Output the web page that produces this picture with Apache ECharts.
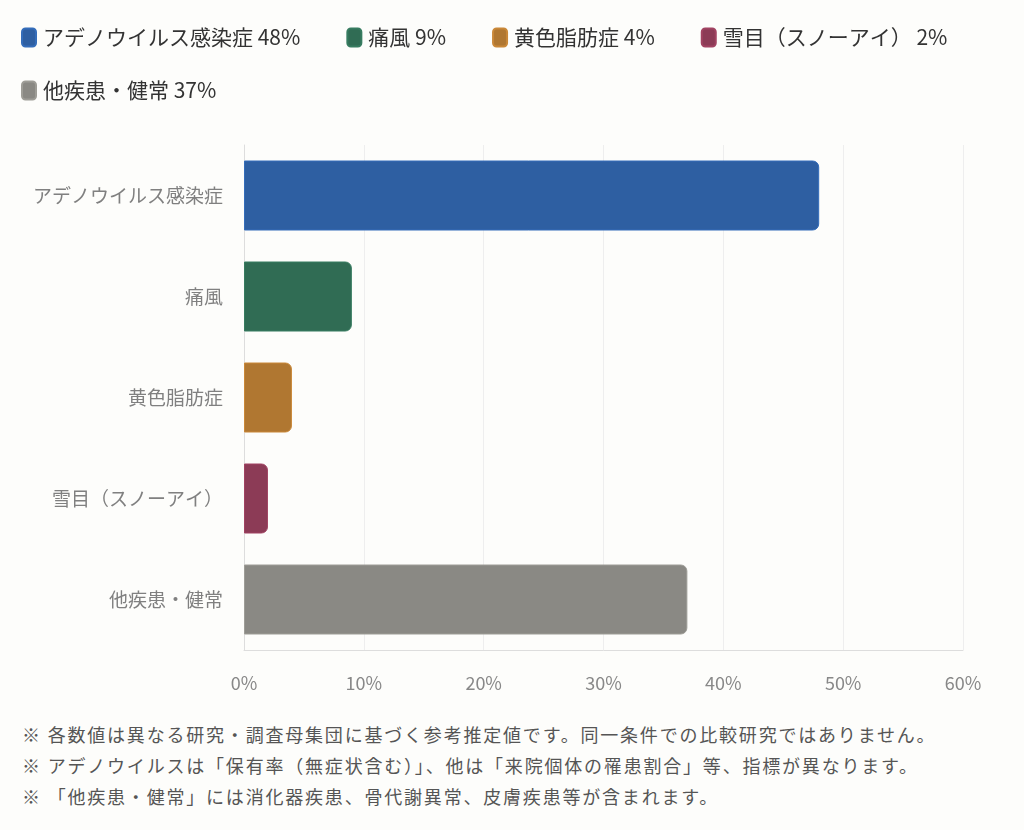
<!DOCTYPE html>
<html>
<head>
<meta charset="utf-8">
<script src="https://cdn.jsdelivr.net/npm/echarts@6/dist/echarts.min.js"></script>
<style>
    html, body { margin: 0; padding: 0; background: #fdfdfb; }
    #chart { width: 1024px; height: 710px; }
    .notes {
        margin: 0; padding: 9px 0 0 22px;
        font-family: "Noto Sans CJK JP", "Noto Sans", sans-serif;
        font-size: 18px; letter-spacing: 1.8px; line-height: 31px; color: #555;
        white-space: nowrap;
    }
</style>
</head>
<body>
<div id="chart"></div>
<div class="notes">
    <div>※ 各数値は異なる研究・調査母集団に基づく参考推定値です。同一条件での比較研究ではありません。</div>
    <div>※ アデノウイルスは「保有率（無症状含む）」、他は「来院個体の罹患割合」等、指標が異なります。</div>
    <div>※ 「他疾患・健常」には消化器疾患、骨代謝異常、皮膚疾患等が含まれます。</div>
</div>
<script>
    var categories = ['アデノウイルス感染症', '痛風', '黄色脂肪症', '雪目（スノーアイ）', '他疾患・健常'];
    var values     = [48, 9, 4, 2, 37];
    var colors     = ['#2e5fa2', '#306c54', '#b07731', '#8c3b56', '#8a8984'];
    var xTicks     = [0, 10, 20, 30, 40, 50, 60];

    var font = '"Noto Sans CJK JP", "Noto Sans", sans-serif';

    // 一項目ごとに系列を作り、凡例に色を出す
    var series = categories.map(function (name, i) {
        var data = values.map(function (v, j) {
            return j === i ? v : '-';
        });
        return {
            name       : name,
            type       : 'bar',
            stack      : 'all',
            barWidth   : 70,
            data       : data,
            itemStyle  : {
                color       : colors[i],
                borderColor : echarts.color.lift(colors[i], -0.15),
                borderWidth : 1,
                borderRadius: [0, 6, 6, 0]
            }
        };
    });

    // 凡例は2行（行間を合わせるため2つに分ける）
    function makeLegend(names, top) {
        return {
            data      : names,
            left      : 16,
            top       : top,
            itemWidth : 14,
            itemHeight: 18,
            itemGap   : 46,
            icon      : 'roundRect',
            textStyle : { fontSize: 21, color: '#333', fontFamily: font, padding: [0, 0, 0, 2] },
            formatter : function (name) {
                return name + ' ' + values[categories.indexOf(name)] + '%';
            },
            selectedMode: false
        };
    }

    var myChart = echarts.init(document.getElementById('chart'));
    myChart.setOption({
        backgroundColor: '#fdfdfb',
        textStyle: { fontFamily: font },
        legend: [
            makeLegend(categories.slice(0, 4), 22),
            makeLegend(categories.slice(4), 75)
        ],
        grid: { left: 244, right: 61, top: 145, bottom: 60, containLabel: false },
        xAxis: {
            type    : 'value',
            min     : xTicks[0],
            max     : xTicks[xTicks.length - 1],
            interval: 10,
            axisLabel: {
                color: '#888', fontSize: 18, margin: 24,
                formatter: function (v) { return v + '%'; }
            },
            axisLine : { show: true, lineStyle: { color: '#ddd' } },
            axisTick : { show: false },
            splitLine: { lineStyle: { color: '#eee' } }
        },
        yAxis: {
            type    : 'category',
            inverse : true,
            data    : categories,
            axisLabel: { color: '#808080', fontSize: 19, margin: 21 },
            axisLine : { lineStyle: { color: '#ddd' } },
            axisTick : { show: false }
        },
        series: series
    });
</script>
</body>
</html>
